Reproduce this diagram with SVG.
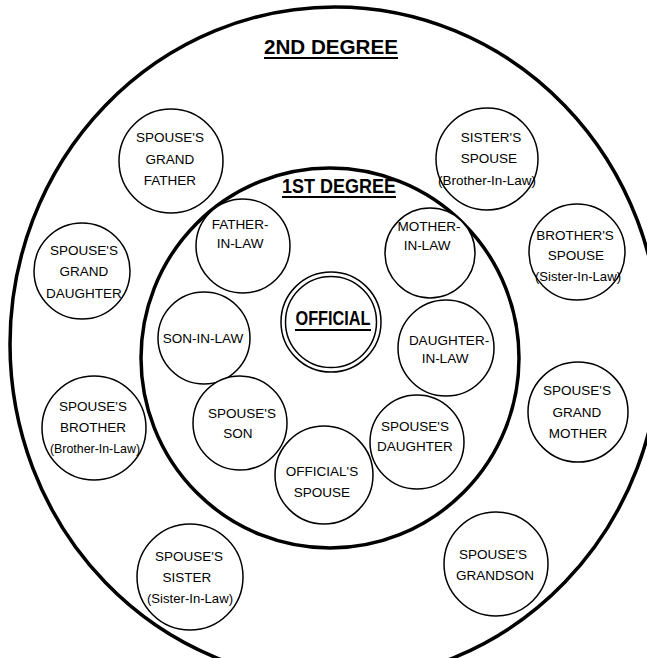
<svg xmlns="http://www.w3.org/2000/svg" width="647" height="658" viewBox="0 0 647 658">
<style>
.ring{fill:none;stroke:#000;stroke-width:3.5}
.n{fill:#fff;stroke:#000;stroke-width:1.5}
text{font-family:"Liberation Sans",Arial,sans-serif;fill:#000;text-anchor:middle}
.t{font-size:13.5px}
.h{font-size:20px;font-weight:bold}
.u{stroke:#000;stroke-width:2}
</style>
<rect width="647" height="658" fill="#fff"/>
<g id="connectors"></g>
<g id="second-degree">
<ellipse class="ring" cx="335" cy="344" rx="325" ry="337"/>
<text class="h" x="331" y="54" textLength="134" lengthAdjust="spacingAndGlyphs">2ND DEGREE</text>
<line class="u" x1="264" y1="58" x2="398" y2="58"/>
</g>
<g id="first-degree">
<ellipse class="ring" cx="330" cy="358" rx="189" ry="190"/>
<text class="h" x="339" y="193" textLength="114" lengthAdjust="spacingAndGlyphs">1ST DEGREE</text>
<line class="u" x1="282" y1="197" x2="396" y2="197"/>
</g>
<g id="spouses-grandfather">
<circle class="n" cx="171" cy="161" r="52"/>
<text class="t" x="170" y="142">SPOUSE'S</text>
<text class="t" x="170" y="164">GRAND</text>
<text class="t" x="170" y="185">FATHER</text>
</g>
<g id="sisters-spouse">
<circle class="n" cx="487" cy="159" r="51"/>
<text class="t" x="491" y="142">SISTER'S</text>
<text class="t" x="489" y="163">SPOUSE</text>
<text class="t" x="487" y="185" textLength="98" lengthAdjust="spacingAndGlyphs">(Brother-In-Law)</text>
</g>
<g id="spouses-granddaughter">
<circle class="n" cx="82" cy="271" r="48"/>
<text class="t" x="84" y="255">SPOUSE'S</text>
<text class="t" x="84" y="276">GRAND</text>
<text class="t" x="84" y="298">DAUGHTER</text>
</g>
<g id="brothers-spouse">
<circle class="n" cx="577" cy="252" r="48"/>
<text class="t" x="575" y="240">BROTHER'S</text>
<text class="t" x="576" y="260">SPOUSE</text>
<text class="t" x="578" y="281" textLength="86" lengthAdjust="spacingAndGlyphs">(Sister-In-Law)</text>
</g>
<g id="spouses-grandmother">
<circle class="n" cx="578" cy="412" r="50"/>
<text class="t" x="577" y="395">SPOUSE'S</text>
<text class="t" x="577" y="417">GRAND</text>
<text class="t" x="578" y="438">MOTHER</text>
</g>
<g id="spouses-brother">
<circle class="n" cx="94" cy="428" r="52"/>
<text class="t" x="93" y="411">SPOUSE'S</text>
<text class="t" x="93" y="432">BROTHER</text>
<text class="t" x="95" y="453" textLength="90" lengthAdjust="spacingAndGlyphs">(Brother-In-Law)</text>
</g>
<g id="spouses-sister">
<circle class="n" cx="190" cy="577" r="53"/>
<text class="t" x="189" y="561">SPOUSE'S</text>
<text class="t" x="187" y="582">SISTER</text>
<text class="t" x="190" y="603" textLength="86" lengthAdjust="spacingAndGlyphs">(Sister-In-Law)</text>
</g>
<g id="spouses-grandson">
<circle class="n" cx="496" cy="564" r="52"/>
<text class="t" x="493" y="559">SPOUSE'S</text>
<text class="t" x="495" y="580">GRANDSON</text>
</g>
<g id="father-in-law">
<circle class="n" cx="243" cy="246" r="47"/>
<text class="t" x="240" y="229">FATHER-</text>
<text class="t" x="240" y="248">IN-LAW</text>
</g>
<g id="mother-in-law">
<circle class="n" cx="430" cy="253" r="45"/>
<text class="t" x="429" y="231">MOTHER-</text>
<text class="t" x="427" y="250">IN-LAW</text>
</g>
<g id="son-in-law">
<circle class="n" cx="204" cy="338" r="46"/>
<text class="t" x="203" y="343">SON-IN-LAW</text>
</g>
<g id="official">
<circle class="n" cx="331" cy="322" r="50"/>
<circle class="n" cx="331" cy="322" r="45.5"/>
<text class="h" x="333" y="325" textLength="75" lengthAdjust="spacingAndGlyphs">OFFICIAL</text>
<line class="u" x1="295" y1="330" x2="371" y2="330"/>
</g>
<g id="daughter-in-law">
<circle class="n" cx="446" cy="348" r="48"/>
<text class="t" x="449" y="345">DAUGHTER-</text>
<text class="t" x="445" y="363">IN-LAW</text>
</g>
<g id="spouses-son">
<circle class="n" cx="240" cy="423" r="47"/>
<text class="t" x="242" y="418">SPOUSE'S</text>
<text class="t" x="238" y="438">SON</text>
</g>
<g id="spouses-daughter">
<circle class="n" cx="417" cy="442" r="47"/>
<text class="t" x="415" y="431">SPOUSE'S</text>
<text class="t" x="415" y="451">DAUGHTER</text>
</g>
<g id="officials-spouse">
<circle class="n" cx="324" cy="475" r="49"/>
<text class="t" x="322" y="476">OFFICIAL'S</text>
<text class="t" x="322" y="497">SPOUSE</text>
</g>
</svg>
